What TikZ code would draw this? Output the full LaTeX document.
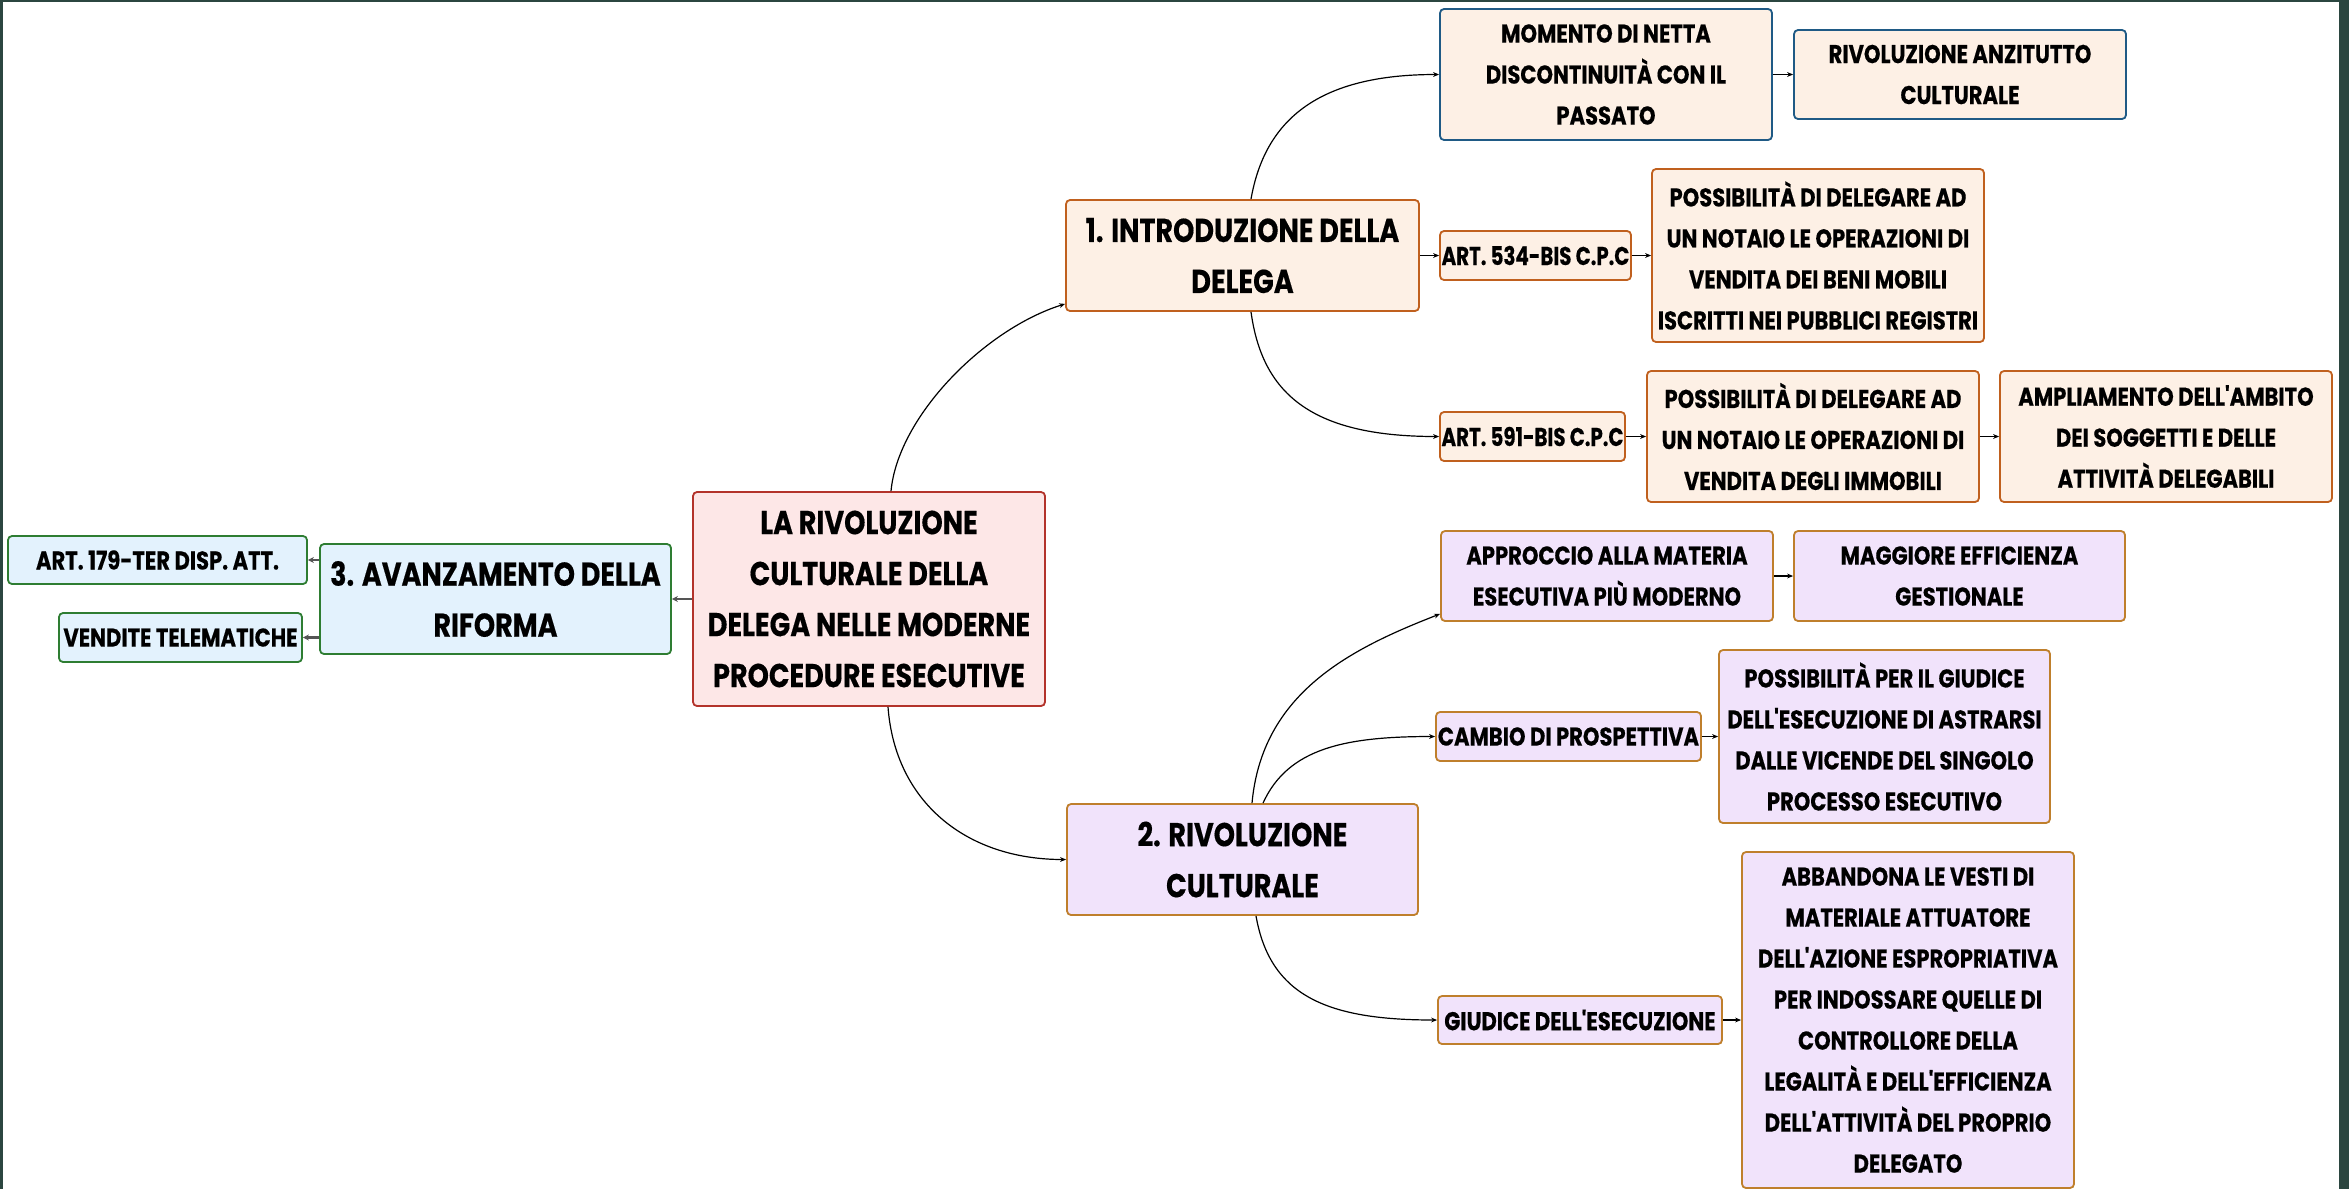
\documentclass[tikz,border=0pt]{standalone}
\usepackage{fontspec}
\usepackage{graphicx}
\setmainfont{Poppins}[FakeStretch=0.82, Ligatures=TeXOff, BoldFeatures={FakeBold=0.4}]
\usetikzlibrary{arrows.meta}
\definecolor{frame}{HTML}{2B4640}
\definecolor{rootfill}{HTML}{FDE7E7}
\definecolor{rootdraw}{HTML}{B3332B}
\definecolor{bluefill}{HTML}{E3F2FD}
\definecolor{greendraw}{HTML}{2E7D32}
\definecolor{peach}{HTML}{FDF0E5}
\definecolor{orangedraw}{HTML}{C0601E}
\definecolor{bluedraw}{HTML}{1F5A85}
\definecolor{lav}{HTML}{F1E3FB}
\definecolor{golddraw}{HTML}{BF7F2C}
\definecolor{stub}{HTML}{555555}
\tikzset{
  box/.style={draw, rounded corners=2pt, line width=0.9pt, align=center, inner sep=0pt,
    font=\bfseries\fontsize{12.85}{20.5}\selectfont, text=black},
  bigtext/.style={font=\bfseries\fontsize{16.5}{25.5}\selectfont},
  rootbox/.style={box, bigtext, fill=rootfill, draw=rootdraw},
  greenbox/.style={box, fill=bluefill, draw=greendraw},
  orangebox/.style={box, fill=peach, draw=orangedraw},
  bluebox/.style={box, fill=peach, draw=bluedraw},
  lavbox/.style={box, fill=lav, draw=golddraw},
  conn/.style={draw=black, line width=0.6pt, -{Stealth[length=3pt,width=2.4pt]}},
  stubline/.style={draw=stub, line width=1.4pt, -{Stealth[length=3pt,width=3pt]}},
}
\begin{document}
\begin{tikzpicture}[x=0.5pt,y=-0.5pt]
\useasboundingbox (0,0) rectangle (2349,1189);
\fill[white] (0,0) rectangle (2349,1189);
\fill[frame] (0,0) rectangle (2349,2);
\fill[frame] (0,0) rectangle (3,1189);
\fill[frame] (2339,0) rectangle (2349,1189);

% nodes
\node[rootbox, minimum width=176pt, minimum height=107pt] (root) at (869,599)
  {LA RIVOLUZIONE\\CULTURALE DELLA\\DELEGA NELLE MODERNE\\PROCEDURE ESECUTIVE};
\node[greenbox, bigtext, minimum width=175.5pt, minimum height=55pt] (n3) at (495.5,599)
  {3. AVANZAMENTO DELLA\\RIFORMA};
\node[greenbox, minimum width=149.5pt, minimum height=24pt] (art179) at (157.5,560)
  {ART. 179-TER DISP. ATT.};
\node[greenbox, minimum width=121.5pt, minimum height=24.5pt] (vend) at (180.5,637.5)
  {VENDITE TELEMATICHE};

\node[orangebox, bigtext, minimum width=176.5pt, minimum height=55.5pt] (n1) at (1242.5,255.5)
  {1. INTRODUZIONE DELLA\\DELEGA};
\node[bluebox, minimum width=166pt, minimum height=65.5pt] (mom) at (1606,74.5)
  {MOMENTO DI NETTA\\DISCONTINUITÀ CON IL\\PASSATO};
\node[bluebox, minimum width=166pt, minimum height=44.5pt] (riv) at (1960,74.5)
  {RIVOLUZIONE ANZITUTTO\\CULTURALE};
\node[orangebox, minimum width=95.5pt, minimum height=24.5pt] (a534) at (1535.5,255.5)
  {\scalebox{0.94}[1]{ART. 534-BIS C.P.C}};
\node[orangebox, minimum width=166pt, minimum height=86.5pt] (p1) at (1818,255.5)
  {POSSIBILITÀ DI DELEGARE AD\\UN NOTAIO LE OPERAZIONI DI\\VENDITA DEI BENI MOBILI\\ISCRITTI NEI PUBBLICI REGISTRI};
\node[orangebox, minimum width=92.5pt, minimum height=24.5pt] (a591) at (1532.5,436.5)
  {\scalebox{0.94}[1]{ART. 591-BIS C.P.C}};
\node[orangebox, minimum width=166pt, minimum height=65.5pt] (p2) at (1813,436.5)
  {POSSIBILITÀ DI DELEGARE AD\\UN NOTAIO LE OPERAZIONI DI\\VENDITA DEGLI IMMOBILI};
\node[orangebox, minimum width=166pt, minimum height=65.5pt] (ampl) at (2166,436.5)
  {AMPLIAMENTO DELL'AMBITO\\DEI SOGGETTI E DELLE\\ATTIVITÀ DELEGABILI};

\node[lavbox, bigtext, minimum width=175.5pt, minimum height=55.5pt] (n2) at (1242.5,859.5)
  {2. RIVOLUZIONE\\CULTURALE};
\node[lavbox, minimum width=166pt, minimum height=45pt] (app) at (1607,576)
  {APPROCCIO ALLA MATERIA\\ESECUTIVA PIÙ MODERNO};
\node[lavbox, minimum width=165.5pt, minimum height=45pt] (mag) at (1959.5,576)
  {MAGGIORE EFFICIENZA\\GESTIONALE};
\node[lavbox, minimum width=132.5pt, minimum height=24.5pt] (cambio) at (1568.5,736.5)
  {CAMBIO DI PROSPETTIVA};
\node[lavbox, minimum width=165.5pt, minimum height=86.5pt] (p3) at (1884.5,736.5)
  {POSSIBILITÀ PER IL GIUDICE\\DELL'ESECUZIONE DI ASTRARSI\\DALLE VICENDE DEL SINGOLO\\PROCESSO ESECUTIVO};
\node[lavbox, minimum width=142pt, minimum height=24pt] (giud) at (1580,1020)
  {GIUDICE DELL'ESECUZIONE};
\node[lavbox, minimum width=166pt, minimum height=168pt] (abb) at (1908,1020)
  {ABBANDONA LE VESTI DI\\MATERIALE ATTUATORE\\DELL'AZIONE ESPROPRIATIVA\\PER INDOSSARE QUELLE DI\\CONTROLLORE DELLA\\LEGALITÀ E DELL'EFFICIENZA\\DELL'ATTIVITÀ DEL PROPRIO\\DELEGATO};

% curved connectors
\draw[conn] ([xshift=11pt]root.north) .. controls +(7,-75) and +(-80,25) .. ([yshift=4pt]n1.south west);
\draw[conn] ([xshift=9.5pt]root.south) .. controls +(7,95) and +(-100,0) .. (n2.west);
\draw[conn] ([xshift=4.25pt]n1.north) .. controls +(14,-80) and +(-120,0) .. (mom.west);
\draw[conn] ([xshift=4.25pt]n1.south) .. controls +(11,80) and +(-130,0) .. (a591.west);
\draw[conn] ([xshift=4.75pt]n2.north) .. controls +(10,-110) and +(-90,35) .. ([yshift=4pt]app.south west);
\draw[conn] ([xshift=10.25pt]n2.north) .. controls +(25,-55) and +(-90,0) .. (cambio.west);
\draw[conn] ([xshift=6.75pt]n2.south) .. controls +(14,80) and +(-110,0) .. (giud.west);

% straight connectors
\draw[conn] (n1.east |- a534.west) -- (a534.west);
\draw[conn] (a534.east) -- (p1.west);
\draw[conn] (a591.east) -- (p2.west);
\draw[conn] (p2.east) -- (ampl.west);
\draw[conn] (mom.east) -- (riv.west |- mom.east);
\draw[conn] (app.east) -- (mag.west);
\draw[conn] (cambio.east) -- (p3.west);
\draw[conn] (giud.east) -- (abb.west);

% left side
\draw[stubline] (root.west) -- (n3.east);
\draw[stubline] (n3.west |- art179.east) -- (art179.east);
\draw[stubline] (n3.west |- vend.east) -- (vend.east);
\end{tikzpicture}
\end{document}
